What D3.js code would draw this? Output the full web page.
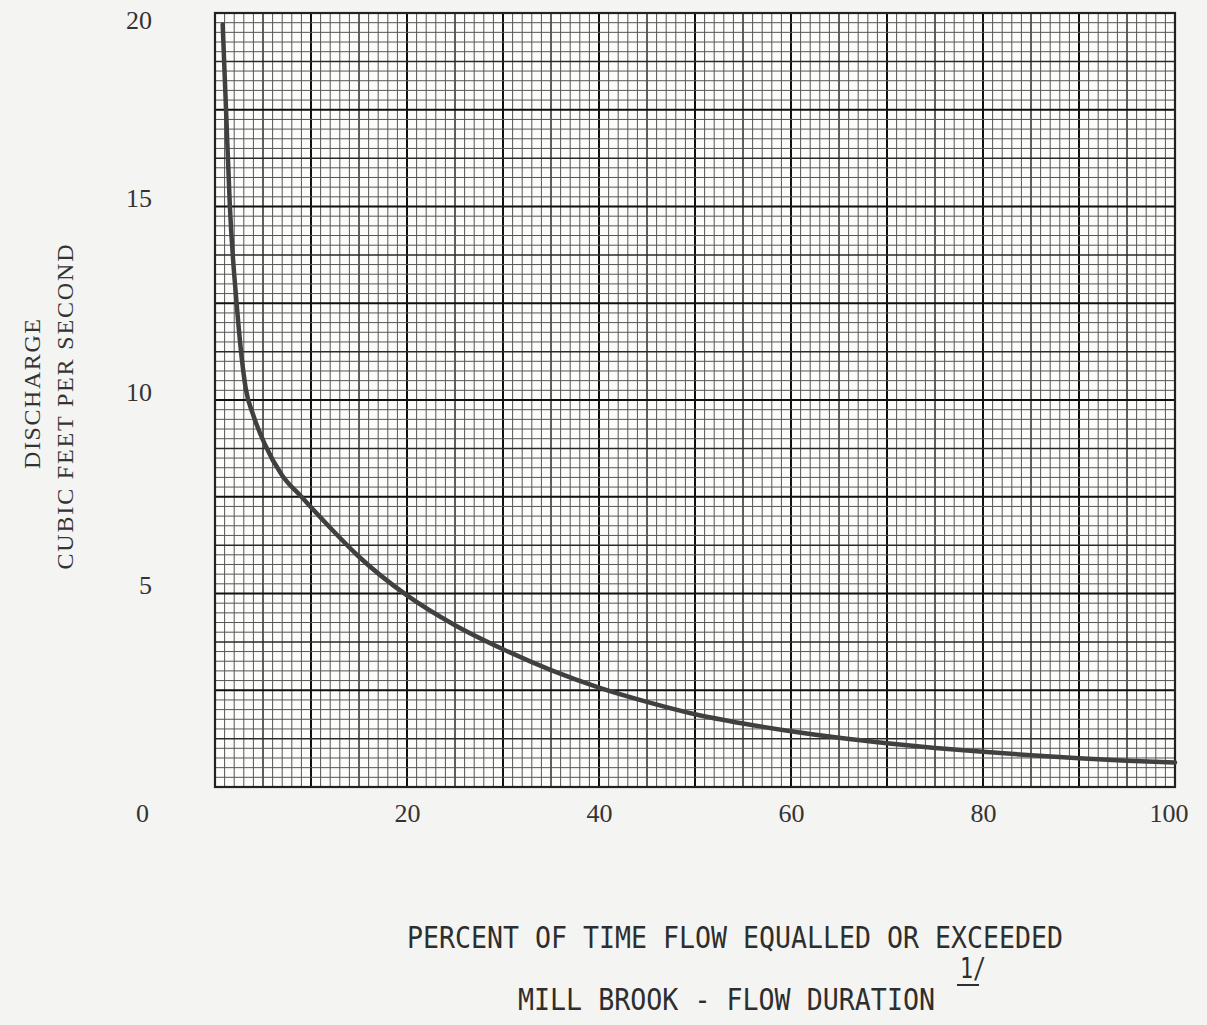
<!DOCTYPE html>
<html>
<head>
<meta charset="utf-8">
<script src="https://cdn.jsdelivr.net/npm/d3@7"></script>
<style>
  html, body { margin: 0; padding: 0; background: #f4f4f2; }
  svg { display: block; }
</style>
</head>
<body>
<div id="chart"></div>
<script>
/**
 * DATA
 * */
const percentExceeded = [0.8, 1.15, 1.55, 2.25, 3.2, 4.0, 5.2, 7, 9, 12, 15, 20, 25, 30,
  35, 40, 45, 50, 55, 60, 65, 70, 75, 80, 85, 90, 95, 100];
const dischargeCfs = [19.7, 17.5, 15.0, 12.5, 10.3, 9.6, 8.85, 8.05, 7.5, 6.7, 5.95, 4.95, 4.18, 3.56,
  3.02, 2.57, 2.2, 1.88, 1.64, 1.44, 1.27, 1.13, 1.01, 0.91, 0.82, 0.74, 0.68, 0.63];

const xTickValues = [20, 40, 60, 80, 100];
const yTickValues = [5, 10, 15, 20];

const titleLine1 = "PERCENT OF TIME FLOW EQUALLED OR EXCEEDED";
const titleLine2 = "MILL BROOK - FLOW DURATION";
const yTitle1 = "DISCHARGE";
const yTitle2 = "CUBIC FEET PER SECOND";

/**
 * CONSTANTS
 * */
const width = 1207,
  height = 1025,
  margin = { top: 13, bottom: 238, left: 215, right: 32 };

const svg = d3.select("#chart")
  .append("svg")
  .attr("width", width)
  .attr("height", height);

const x = d3.scaleLinear().domain([0, 100]).range([margin.left, width - margin.right]);
const y = d3.scaleLinear().domain([0, 20]).range([height - margin.bottom, margin.top]);

// paper
svg.append("rect")
  .attr("x", x(0)).attr("y", y(20))
  .attr("width", x(100) - x(0)).attr("height", y(0) - y(20))
  .attr("fill", "#fcfcfb");

// graph paper grid: fine lines every 1% / 0.25 cfs,
// medium every 5% / 1.25 cfs, heavy every 10% / 2.5 cfs
const grid = svg.append("g").attr("class", "grid");

const xMinor = d3.range(0, 100.001, 1);
const yMinor = d3.range(0, 20.001, 0.25);

const isMult = (v, step) => Math.abs(v / step - Math.round(v / step)) < 1e-6;
const gridColor = (v, a, b) => isMult(v, b) ? "#111" : isMult(v, a) ? "#2a2a2a" : "#555";
const gridWidth = (v, a, b) => isMult(v, b) ? 2 : isMult(v, a) ? 1.5 : 1;

grid.selectAll(".vx")
  .data(xMinor)
  .join("line")
  .attr("class", "vx")
  .attr("x1", d => x(d)).attr("x2", d => x(d))
  .attr("y1", y(20)).attr("y2", y(0))
  .attr("stroke", d => gridColor(d, 5, 10))
  .attr("stroke-width", d => gridWidth(d, 5, 10));

grid.selectAll(".hy")
  .data(yMinor)
  .join("line")
  .attr("class", "hy")
  .attr("y1", d => y(d)).attr("y2", d => y(d))
  .attr("x1", x(0)).attr("x2", x(100))
  .attr("stroke", d => gridColor(d, 1.25, 2.5))
  .attr("stroke-width", d => gridWidth(d, 1.25, 2.5));

// border
svg.append("rect")
  .attr("x", x(0)).attr("y", y(20))
  .attr("width", x(100) - x(0)).attr("height", y(0) - y(20))
  .attr("fill", "none")
  .attr("stroke", "#222")
  .attr("stroke-width", 2.2);

// the curve
const points = percentExceeded.map((p, i) => [p, dischargeCfs[i]]);
const line = d3.line()
  .x(d => x(d[0]))
  .y(d => y(d[1]))
  .curve(d3.curveMonotoneX);

svg.append("path")
  .datum(points)
  .attr("d", line)
  .attr("fill", "none")
  .attr("stroke", "#404040")
  .attr("stroke-width", 4.5)
  .attr("stroke-linecap", "round")
  .attr("stroke-linejoin", "round");

// x tick labels
const xAxis = svg.append("g")
  .attr("transform", `translate(0, ${y(0)})`)
  .call(d3.axisBottom(x).tickValues(xTickValues).tickSize(0).tickPadding(17).tickFormat(d3.format("d")));
xAxis.select(".domain").remove();
xAxis.selectAll(".tick")
  .filter(d => d === 100)
  .attr("transform", `translate(${x(100) - 6}, 0)`);
xAxis.selectAll("text")
  .attr("font-family", "'Liberation Serif', serif")
  .attr("font-size", 26)
  .attr("fill", "#333");

// y tick labels (typed a little above the lines on the original)
const yAxis = svg.append("g")
  .attr("transform", `translate(${x(0)}, -8)`)
  .call(d3.axisLeft(y).tickValues(yTickValues).tickSize(0).tickPadding(63).tickFormat(d3.format("d")));
yAxis.select(".domain").remove();
yAxis.selectAll(".tick")
  .filter(d => d === 20)
  .attr("transform", `translate(0, ${y(20) + 16})`);
yAxis.selectAll("text")
  .attr("font-family", "'Liberation Serif', serif")
  .attr("font-size", 26)
  .attr("fill", "#333");

// origin label
svg.append("text")
  .attr("x", 149)
  .attr("y", y(0) + 17)
  .attr("dy", "0.71em")
  .attr("text-anchor", "end")
  .attr("font-family", "'Liberation Serif', serif")
  .attr("font-size", 26)
  .attr("fill", "#333")
  .text("0");

// y title, two rotated lines
const yTitle = svg.append("g")
  .attr("font-family", "'Liberation Serif', serif")
  .attr("font-size", 24)
  .attr("fill", "#333")
  .attr("text-anchor", "middle");

yTitle.append("text")
  .attr("transform", "translate(40, 394) rotate(-90)")
  .attr("textLength", 150)
  .text(yTitle1);

yTitle.append("text")
  .attr("transform", "translate(73, 407) rotate(-90)")
  .attr("textLength", 325)
  .text(yTitle2);

// bottom titles
const bottom = svg.append("g")
  .attr("font-family", "'DejaVu Sans Mono', monospace")
  .attr("font-size", 30)
  .attr("fill", "#2e2e2e");

bottom.append("text")
  .attr("x", 407)
  .attr("y", 948)
  .attr("textLength", 656)
  .attr("lengthAdjust", "spacingAndGlyphs")
  .text(titleLine1);

bottom.append("text")
  .attr("x", 518)
  .attr("y", 1010)
  .attr("textLength", 417)
  .attr("lengthAdjust", "spacingAndGlyphs")
  .text(titleLine2);

// footnote mark 1/ with underline
bottom.append("text")
  .attr("x", 960)
  .attr("y", 978)
  .attr("font-size", 28)
  .attr("textLength", 26)
  .attr("lengthAdjust", "spacingAndGlyphs")
  .text("1/");

bottom.append("line")
  .attr("x1", 957).attr("x2", 979)
  .attr("y1", 985).attr("y2", 985)
  .attr("stroke", "#2e2e2e")
  .attr("stroke-width", 2);
</script>
</body>
</html>
